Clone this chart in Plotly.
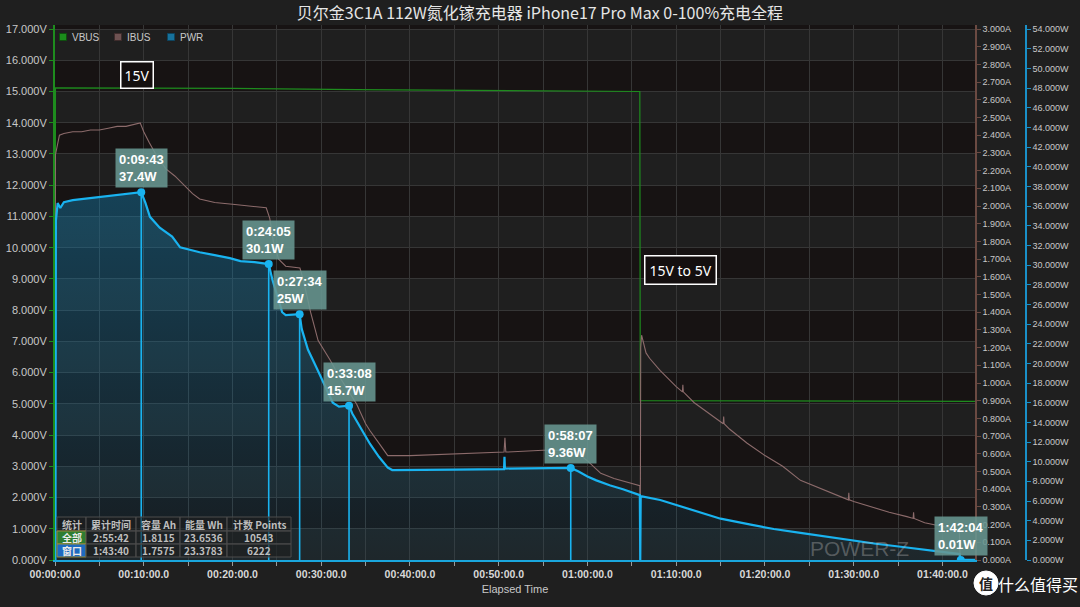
import plotly.graph_objects as go

# ---------------- data ----------------
chart_title = "贝尔金3C1A 112W氮化镓充电器 iPhone17 Pro Max 0-100%充电全程"

# elapsed time in minutes
vbus_t = [0.0, 0.05, 10.0, 20.0, 34.0, 50.0, 65.9, 65.95, 80.0, 103.67]
vbus_v = [0.0, 15.12, 15.11, 15.10, 15.06, 15.02, 15.00, 5.10, 5.09, 5.08]

ibus_t = [0.0, 0.05, 0.5, 1, 2, 3, 4, 5, 6, 7, 8, 9, 9.6, 10.0, 10.6, 11.5, 12.5, 13.5,
          14.5, 15.5, 16.3, 18, 20, 22, 23.8, 24.2, 24.6, 25.2, 26, 27.6, 28.0, 28.8,
          29.65, 31, 32, 33, 34, 35, 35.5, 36.5, 37.5, 40, 45, 50.6, 50.7, 50.8, 55,
          58.5, 60, 61.5, 63, 65.9, 65.95, 66.0, 66.1, 66.4, 66.6, 67, 68.2, 70, 70.7,
          70.75, 70.8, 72, 74, 75.3, 75.35, 75.4, 76, 78, 80, 82, 84, 86, 88, 89.4,
          89.45, 89.5, 90, 92, 94, 96, 96.7, 96.75, 96.8, 98, 100, 101.9, 102.0, 103.67]
ibus_a = [0.0, 2.29, 2.40, 2.41, 2.42, 2.42, 2.43, 2.43, 2.44, 2.45, 2.45, 2.46, 2.47,
          2.42, 2.36, 2.28, 2.21, 2.17, 2.12, 2.07, 2.04, 2.02, 2.01, 2.00, 1.99, 1.93,
          1.80, 1.70, 1.66, 1.65, 1.58, 1.40, 1.24, 1.13, 1.04, 0.96, 0.88, 0.77, 0.73,
          0.66, 0.59, 0.59, 0.60, 0.61, 0.69, 0.61, 0.62, 0.62, 0.56, 0.49, 0.46, 0.42,
          0.0, 1.20, 1.27, 1.20, 1.17, 1.14, 1.07, 0.98, 0.95, 0.99, 0.95, 0.89, 0.82,
          0.77, 0.81, 0.77, 0.74, 0.66, 0.59, 0.53, 0.45, 0.41, 0.37, 0.34, 0.38, 0.34,
          0.33, 0.30, 0.27, 0.245, 0.235, 0.27, 0.235, 0.21, 0.19, 0.17, 0.0, 0.0]

pwr_t = [0.0, 0.05, 0.1, 0.3, 0.6, 1, 2, 3, 4, 5, 6, 7, 8, 9, 9.72, 10.2, 10.7, 11.8,
         13.2, 14.1, 16.3, 18, 19.7, 20.9, 22.5, 24.08, 24.5, 25.0, 25.6, 26.0, 27.57,
         27.8, 28.5, 29.5, 30.5, 31.3, 32.0, 33.13, 33.5, 34.5, 35.5, 36.5, 37.5, 38,
         40, 45, 50.6, 50.65, 50.7, 55, 58.12, 59, 60, 61, 62.5, 64, 65.9, 65.95, 66.0,
         68.2, 70, 72.7, 75, 78.4, 81, 84, 87, 89.6, 92.5, 95.3, 99.2, 101.5, 101.95,
         102.0, 103.67]
pwr_w = [0.0, 0.0, 34.5, 36.3, 35.8, 36.4, 36.6, 36.7, 36.8, 36.9, 37.0, 37.1, 37.2,
         37.3, 37.4, 36.3, 34.9, 33.8, 32.9, 31.8, 31.3, 31.0, 30.7, 30.4, 30.3, 30.1,
         28.5, 27.0, 25.2, 24.9, 25.0, 23.5, 21.4, 19.5, 17.6, 16.0, 15.6, 15.7, 14.9,
         13.3, 11.8, 10.5, 9.4, 9.15, 9.15, 9.2, 9.25, 10.5, 9.3, 9.3, 9.36, 9.0, 8.5,
         8.1, 7.6, 7.2, 6.6, 0.0, 6.5, 6.1, 5.6, 4.8, 4.2, 3.6, 3.15, 2.75, 2.35, 2.0,
         1.65, 1.35, 0.9, 0.7, 0.6, 0.01, 0.01]

mark_time = ["0:09:43", "0:24:05", "0:27:34", "0:33:08", "0:58:07", "1:42:04"]
mark_pwr = [37.4, 30.1, 25, 15.7, 9.36, 0.01]

x_tick_min = [0, 10, 20, 30, 40, 50, 60, 70, 80, 90, 100]
x_tick_text = ["00:00:00.0", "00:10:00.0", "00:20:00.0", "00:30:00.0", "00:40:00.0",
               "00:50:00.0", "01:00:00.0", "01:10:00.0", "01:20:00.0", "01:30:00.0",
               "01:40:00.0"]

series_names = ["VBUS", "IBUS", "PWR"]

stat_header = ["统计", "累计时间", "容量 Ah", "能量 Wh", "计数 Points"]
stat_rows = ["全部", "窗口"]
stat_time = ["2:55:42", "1:43:40"]
stat_ah = ["1.8115", "1.7575"]
stat_wh = ["23.6536", "23.3783"]
stat_points = ["10543", "6222"]

note_15v = "15V"
note_switch = "15V to 5V"

# ---------------- styling ----------------
X_MAX = 103.67
V_TOP = 17.13
SCALE = V_TOP / 17.0
C_V = "#1e8c1e"
C_I = "#8c6b6b"
C_P = "#19b3f0"
TXT = "#c8c8c8"
GRID = "#363636"
FONT = "Liberation Sans, Arial, sans-serif"
CJK = "Noto Sans CJK SC, sans-serif"

PLOT_L, PLOT_R_PAPER, PLOT_B, PLOT_T = 55, 1026, 560, 25


def px_x(p):
    return (p - PLOT_L) / (PLOT_R_PAPER - PLOT_L)


def px_y(p):
    return (PLOT_B - p) / (PLOT_B - PLOT_T)


def to_min(s):
    h, m, sec = (int(v) for v in s.split(":"))
    return h * 60 + m + sec / 60.0


mark_t = [to_min(s) for s in mark_time]

fig = go.Figure()

fig.add_trace(go.Scatter(x=vbus_t, y=vbus_v, mode="lines", yaxis="y", name="VBUS",
                         line=dict(color=C_V, width=1.2), showlegend=False,
                         hoverinfo="skip"))
fig.add_trace(go.Scatter(x=ibus_t, y=ibus_a, mode="lines", yaxis="y2", name="IBUS",
                         line=dict(color=C_I, width=1.1), showlegend=False,
                         hoverinfo="skip"))
fig.add_trace(go.Scatter(x=pwr_t, y=pwr_w, mode="lines", yaxis="y3", name="PWR",
                         line=dict(color=C_P, width=2.2), fill="tozeroy",
                         fillgradient=dict(type="vertical",
                                           colorscale=[[0, "rgba(20,130,180,0.08)"],
                                                       [1, "rgba(20,130,180,0.42)"]]),
                         showlegend=False, hoverinfo="skip"))

# drop lines + markers at cursor points
dx, dy = [], []
for t, p in zip(mark_t, mark_pwr):
    dx += [t, t, None]
    dy += [0, p, None]
fig.add_trace(go.Scatter(x=dx, y=dy, mode="lines", yaxis="y3",
                         line=dict(color=C_P, width=1.6), showlegend=False,
                         hoverinfo="skip"))
fig.add_trace(go.Scatter(x=mark_t, y=mark_pwr, mode="markers", yaxis="y3",
                         marker=dict(color=C_P, size=8), showlegend=False,
                         hoverinfo="skip"))

shapes = []
annotations = []

# alternating horizontal bands
for v in range(0, 17):
    if v % 2 == 0:
        shapes.append(dict(type="rect", xref="x domain", yref="y", x0=0, x1=1,
                           y0=v, y1=v + 1, fillcolor="#1f1f1f", line=dict(width=0),
                           layer="below"))

# legend (square swatch + label)
leg_sq_px = [63, 118, 171]
leg_cols = [("#1b8c1b", "#0f4f0f"), ("#6e5252", "#3f2c2c"), ("#17729c", "#0d4560")]
for name, sx, (col, edge) in zip(series_names, leg_sq_px, leg_cols):
    shapes.append(dict(type="rect", xref="paper", yref="paper", xsizemode="pixel",
                       ysizemode="pixel", xanchor=px_x(sx), yanchor=px_y(37),
                       x0=-3.5, x1=3.5, y0=-3.5, y1=3.5, fillcolor=col,
                       line=dict(color=edge, width=1), layer="above"))
    annotations.append(dict(x=px_x(sx + 7), y=px_y(37), xref="paper", yref="paper",
                            text=name, showarrow=False, xanchor="left",
                            yanchor="middle",
                            font=dict(family=FONT, size=10, color=TXT)))

# statistics table (drawn as cells)
tab_cols = [57, 86, 136, 180, 227, 291]
tab_rows = [517, 531, 544, 557]
tab_text = [stat_header] + [[stat_rows[i], stat_time[i], stat_ah[i], stat_wh[i],
                             stat_points[i]] for i in range(2)]
row_label_fill = ["#2e7d32", "#1e6bc0"]
for r in range(3):
    for c in range(5):
        fill = "rgba(30,30,30,0.6)"
        border = "#4d4d4d"
        color = "#bdbdbd"
        if r > 0 and c == 0:
            fill = row_label_fill[r - 1]
            border = "#9a8a3a"
            color = "#eaeaea"
        x0, x1 = px_x(tab_cols[c]), px_x(tab_cols[c + 1])
        y0, y1 = px_y(tab_rows[r + 1]), px_y(tab_rows[r])
        shapes.append(dict(type="rect", xref="paper", yref="paper", x0=x0, x1=x1,
                           y0=y0, y1=y1, fillcolor=fill,
                           line=dict(color=border, width=1), layer="above"))
        annotations.append(dict(x=(x0 + x1) / 2, y=(y0 + y1) / 2, xref="paper",
                                yref="paper", text=tab_text[r][c], showarrow=False,
                                xanchor="center", yanchor="middle",
                                font=dict(family=CJK, size=10, color=color,
                                          weight="bold")))

# watermark circle
WM_X, WM_Y = px_x(986), px_y(583)
shapes.append(dict(type="circle", xref="paper", yref="paper", xsizemode="pixel",
                   ysizemode="pixel", xanchor=WM_X, yanchor=WM_Y,
                   x0=-12, x1=12, y0=-12, y1=12, fillcolor="white",
                   line=dict(color="white", width=1), layer="above"))

annotations.append(dict(x=84.9, y=0.38, xref="x", yref="y", text="POWER-Z",
                        showarrow=False, xanchor="left", yanchor="middle",
                        font=dict(family=FONT, size=21, color="rgba(190,190,190,0.35)")))
for t, p, s in zip(mark_t, mark_pwr, mark_time):
    annotations.append(dict(x=t, y=p, xref="x", yref="y3",
                            text=f"{s}<br>{p:g}W", showarrow=False, align="left",
                            xanchor="center", yanchor="bottom", yshift=4,
                            bgcolor="rgba(104,150,145,0.88)", borderpad=3,
                            font=dict(family=FONT, size=13, color="white",
                                      weight="bold")))
annotations.append(dict(x=9.24, y=15.54, xref="x", yref="y", text=note_15v,
                        showarrow=False, bgcolor="#140f0f", bordercolor="white",
                        borderwidth=1.5, borderpad=3,
                        font=dict(family="Noto Sans, sans-serif", size=14,
                                  color="white")))
annotations.append(dict(x=70.46, y=9.30, xref="x", yref="y", text=note_switch,
                        showarrow=False, bgcolor="#140f0f", bordercolor="white",
                        borderwidth=1.5, borderpad=4,
                        font=dict(family="Noto Sans, sans-serif", size=14,
                                  color="white")))
annotations.append(dict(x=WM_X, y=WM_Y, xref="paper", yref="paper", text="值",
                        showarrow=False, xanchor="center", yanchor="middle",
                        font=dict(family=CJK, size=14, color="#222222",
                                  weight="bold")))
annotations.append(dict(x=px_x(1038), y=px_y(584), xref="paper", yref="paper",
                        text="什么值得买", showarrow=False, xanchor="center",
                        yanchor="middle",
                        font=dict(family=CJK, size=16, color="white")))

DOM_END = (975 - PLOT_L) / (PLOT_R_PAPER - PLOT_L)

fig.update_layout(
    width=1080, height=607,
    margin=dict(l=PLOT_L, r=1080 - PLOT_R_PAPER, t=PLOT_T, b=607 - PLOT_B),
    paper_bgcolor="#1f1f1f",
    plot_bgcolor="#171313",
    title=dict(text=chart_title, x=0.5, xref="container", y=1 - 13 / 607,
               yref="container", xanchor="center", yanchor="middle",
               font=dict(family=CJK, size=16, color="#e6e6e6")),
    showlegend=False,
    xaxis=dict(domain=[0, DOM_END], range=[0, X_MAX], tickvals=x_tick_min,
               ticktext=x_tick_text, showgrid=True, gridcolor=GRID, gridwidth=1,
               zeroline=False, showline=True, linecolor="#1aa6dc", linewidth=1.5,
               ticks="outside", ticklen=4, tickcolor="#9a9a9a",
               minor=dict(dtick=5, showgrid=True, gridcolor=GRID, ticks="outside",
                          ticklen=4, tickcolor="#9a9a9a"),
               tickfont=dict(family=FONT, size=10.5, color="#d8d8d8", weight="bold"),
               title=dict(text="Elapsed Time", standoff=6,
                          font=dict(family=FONT, size=11, color=TXT)),
               automargin=False),
    yaxis=dict(range=[0, V_TOP], dtick=1, tick0=0, tickformat=".3f", ticksuffix="V",
               showgrid=True, gridcolor=GRID, zeroline=False, showline=True,
               linecolor=C_V, linewidth=2, ticks="outside", ticklen=4,
               tickcolor=C_V, tickfont=dict(family=FONT, size=11, color=TXT),
               automargin=False),
    yaxis2=dict(range=[0, 3.0 * SCALE], dtick=0.1, tick0=0, tickformat=".3f",
                ticksuffix="A", overlaying="y", side="right", anchor="x",
                showgrid=False, zeroline=False, showline=True, linecolor="#6b4a42",
                linewidth=1.5, ticks="outside", ticklen=4, tickcolor="#6b4a42",
                tickfont=dict(family=FONT, size=9, color=TXT), automargin=False),
    yaxis3=dict(range=[0, 54 * SCALE], dtick=2, tick0=0, tickformat=".3f",
                ticksuffix="W", overlaying="y", side="right", anchor="free",
                position=1.0, showgrid=False, zeroline=False, showline=True,
                linecolor="#1a90c8", linewidth=1.5, ticks="outside", ticklen=4,
                tickcolor="#1a90c8", tickfont=dict(family=FONT, size=9, color=TXT),
                automargin=False),
    shapes=shapes,
    annotations=annotations,
)

fig.write_html("out.html")
